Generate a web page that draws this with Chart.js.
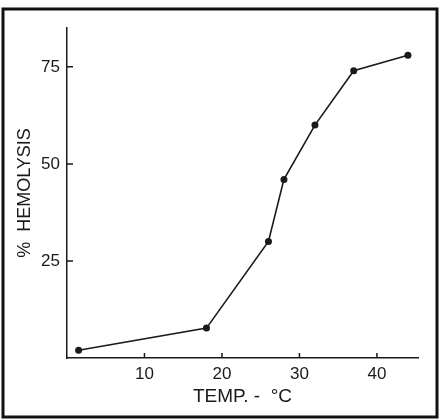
<!DOCTYPE html>
<html>
<head>
<meta charset="utf-8">
<script src="https://cdn.jsdelivr.net/npm/chart.js"></script>
<style>
    html, body { margin: 0; padding: 0; background: #fff; }
    #wrap { width: 440px; height: 420px; position: relative; }
</style>
</head>
<body>
<div id="wrap"><canvas id="hemoChart"></canvas></div>
<script>
// 数据：温度（°C）与溶血百分比
const temps = [1.5, 18, 26, 28, 32, 37, 44];
const hemolysis = [2, 7.7, 30, 46, 60, 74, 78];
const xTicks = [10, 20, 30, 40];
const yTicks = [25, 50, 75];

const ink = '#1a1a1a';
const font = 'Liberation Sans, Arial, sans-serif';

// 轴向内的刻度线 + 外框
const innerTicks = {
    id: 'innerTicks',
    afterDraw(chart) {
        const ctx = chart.ctx;
        const xs = chart.scales.x, ys = chart.scales.y;
        const area = chart.chartArea;
        ctx.save();
        ctx.strokeStyle = ink;
        ctx.lineWidth = 1.5;
        ctx.beginPath();
        xTicks.forEach(v => {
            const px = xs.getPixelForValue(v);
            ctx.moveTo(px, area.bottom);
            ctx.lineTo(px, area.bottom - 5);
        });
        yTicks.forEach(v => {
            const py = ys.getPixelForValue(v);
            ctx.moveTo(area.left, py);
            ctx.lineTo(area.left + 6, py);
        });
        ctx.stroke();
        // 外框
        ctx.lineWidth = 3;
        ctx.strokeStyle = '#111';
        ctx.strokeRect(3, 9, 434, 408);
        ctx.restore();
    }
};

new Chart(document.getElementById('hemoChart'), {
    type: 'scatter',
    data: {
        datasets: [{
            data: temps.map((t, i) => ({ x: t, y: hemolysis[i] })),
            showLine: true,
            borderColor: ink,
            borderWidth: 1.6,
            backgroundColor: ink,
            pointRadius: 3.5,
            pointBorderWidth: 0,
            clip: false
        }]
    },
    options: {
        responsive: true,
        maintainAspectRatio: false,
        animation: false,
        layout: { padding: { top: 28, right: 22, left: 0, bottom: 0 } },
        plugins: {
            legend: { display: false },
            tooltip: { enabled: false }
        },
        scales: {
            x: {
                type: 'linear',
                min: 0,
                max: 45.3,
                afterFit: s => { s.height = 62; },
                afterBuildTicks: s => { s.ticks = xTicks.map(v => ({ value: v })); },
                grid: { display: true, drawOnChartArea: false, drawTicks: false },
                border: { display: true, color: ink, width: 1.5 },
                ticks: {
                    padding: 6,
                    color: ink,
                    font: { family: font, size: 17 }
                },
                title: {
                    display: true,
                    text: 'TEMP. -  °C',
                    color: ink,
                    font: { family: font, size: 19 },
                    padding: { top: 0, bottom: 12 }
                }
            },
            y: {
                type: 'linear',
                min: 0,
                max: 85,
                afterFit: s => { s.width = 67; },
                afterBuildTicks: s => { s.ticks = yTicks.map(v => ({ value: v })); },
                grid: { display: true, drawOnChartArea: false, drawTicks: false },
                border: { display: true, color: ink, width: 1.5 },
                ticks: {
                    padding: 7,
                    color: ink,
                    font: { family: font, size: 17 }
                },
                title: {
                    display: true,
                    text: '%  HEMOLYSIS',
                    color: ink,
                    font: { family: font, size: 18 },
                    padding: { top: 14, bottom: 0 }
                }
            }
        }
    },
    plugins: [innerTicks]
});
</script>
</body>
</html>
